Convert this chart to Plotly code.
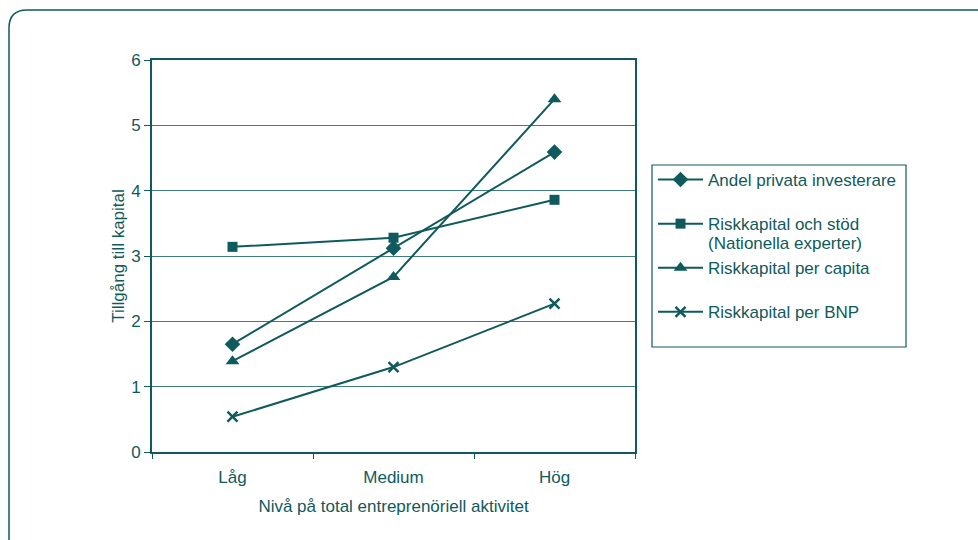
import plotly.graph_objects as go

categories = ["Låg", "Medium", "Hög"]
series_names = ["Andel privata investerare", "Riskkapital och stöd",
                "Riskkapital per capita", "Riskkapital per BNP"]
name_note = "(Nationella experter)"
andel = [1.65, 3.12, 4.59]
stod = [3.14, 3.28, 3.86]
capita = [1.39, 2.68, 5.40]
bnp = [0.54, 1.30, 2.27]
y_ticks = [0, 1, 2, 3, 4, 5, 6]

C = "#0F5A5C"
W, H = 978, 540
ML, MR, MT, MB = 152, 343, 60, 88
PW, PH = W - ML - MR, H - MT - MB
FS = 17


def px(x):
    return (x - ML) / PW


def py(y):
    return (H - MB - y) / PH


fig = go.Figure()
symbols = ["diamond", "square", "triangle-up", "x-thin-open"]
sizes = [12, 10, 12, 10]
values = [andel, stod, capita, bnp]
for i, (name, vals, sym, sz) in enumerate(zip(series_names, values, symbols, sizes)):
    marker = dict(symbol=sym, size=sz, color=C)
    if sym == "x-thin-open":
        marker["line"] = dict(color=C, width=2.5)
    fig.add_trace(go.Scatter(
        x=categories, y=vals, name=name, mode="lines+markers",
        line=dict(color=C, width=2), marker=marker,
        legendgroup=f"g{i}",
    ))

# rounded frame around the chart
path = (f"M {px(9)} {py(600)} L {px(9)} {py(28)} Q {px(9)} {py(10)} {px(27)} {py(10)} "
        f"L {px(1100)} {py(10)}")
fig.add_shape(type="path", xref="paper", yref="paper", path=path,
              line=dict(color=C, width=1.5))
# legend box
fig.add_shape(type="rect", xref="paper", yref="paper",
              x0=px(652), x1=px(906), y0=py(165), y1=py(347),
              line=dict(color=C, width=1.2), fillcolor="rgba(0,0,0,0)")
fig.add_annotation(xref="paper", yref="paper", x=px(706), y=py(243),
                   xanchor="left", yanchor="middle", text=name_note,
                   showarrow=False, font=dict(size=FS, color=C))

fig.update_layout(
    width=W, height=H,
    margin=dict(l=ML, r=MR, t=MT, b=MB),
    paper_bgcolor="white", plot_bgcolor="white",
    font=dict(family="Liberation Sans, Arial, sans-serif", size=FS, color=C),
    showlegend=True,
    legend=dict(
        x=px(653), y=py(162), xanchor="left", yanchor="top",
        borderwidth=0, bgcolor="rgba(0,0,0,0)",
        font=dict(size=FS, color=C), tracegroupgap=19, itemwidth=45,
    ),
    xaxis=dict(
        type="category", range=[-0.5, 2.5], showline=True, linecolor=C, linewidth=2,
        mirror=True, ticks="outside", ticklen=5, tickcolor=C, tickson="boundaries",
        showgrid=False, ticklabelstandoff=9,
        title=dict(text="Nivå på total entreprenöriell aktivitet", standoff=14,
                   font=dict(size=FS, color=C)),
        tickfont=dict(size=FS, color=C),
    ),
    yaxis=dict(
        range=[0, 6], tickvals=y_ticks, showline=True, linecolor=C, linewidth=2,
        mirror=True, ticks="outside", ticklen=6, tickcolor=C,
        showgrid=True, gridcolor="#3F7D7F", gridwidth=1, zeroline=False,
        title=dict(text="Tillgång till kapital", standoff=2,
                   font=dict(size=FS, color=C)),
        tickfont=dict(size=FS, color=C),
    ),
)

fig.write_html("out.html", config={"displayModeBar": False},
               post_script="document.body.style.margin='0';document.body.style.padding='0';")
